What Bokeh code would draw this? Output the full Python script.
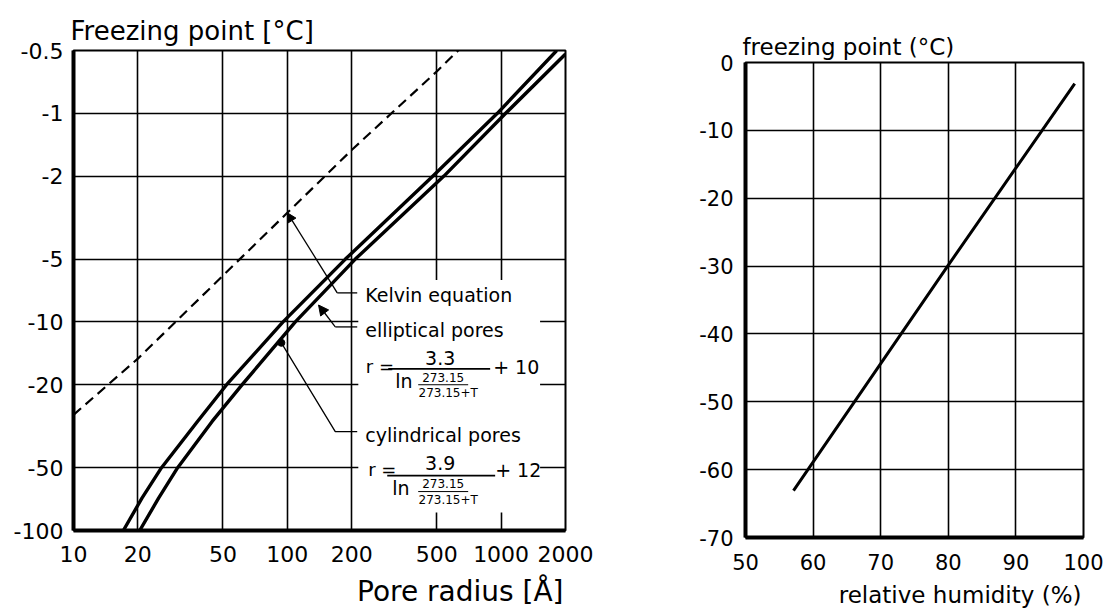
from jinja2 import Template
from bokeh.plotting import figure
from bokeh.models import (Range1d, FixedTicker, CustomJSTickFormatter, Label,
                          Arrow, NormalHead, Title)
from bokeh.embed import file_html
from bokeh.resources import INLINE

FONT = "DejaVu Sans"

# ---------------------------------------------------------------- data ---
# Freezing point versus pore radius (log-log)
radius_ticks = [10, 20, 50, 100, 200, 500, 1000, 2000]
temp_ticks = [-0.5, -1, -2, -5, -10, -20, -50, -100]

kelvin_radius = [10, 20, 50, 100, 200, 500, 630]
kelvin_temp = [-27.9, -15.0, -6.0, -3.0, -1.5, -0.63, -0.5]

elliptical_temp = [-100, -70, -50, -30, -20, -10, -5, -2, -1, -0.5]
elliptical_radius = [17.1, 20.9, 25.8, 38.0, 52.0, 95.5, 187, 480, 960, 1820]

cylindrical_temp = [-100, -70, -50, -30, -20, -10, -5, -2, -1, -0.52]
cylindrical_radius = [20.4, 25.0, 30.7, 44.5, 61.5, 109, 208, 540, 1050, 2000]

# Freezing point versus relative humidity
rh_ticks = [50, 60, 70, 80, 90, 100]
fp_ticks = [0, -10, -20, -30, -40, -50, -60, -70]
humidity = [57.1, 79.9, 98.7]
freezing = [-63.1, -30.0, -3.1]


def depression(temps):
    """The log axis runs over the depression below 0 degC."""
    return [-t for t in temps]


def style(p, tick_size):
    p.outline_line_color = "black"
    p.outline_line_width = 2
    p.outline_line_alpha = 1
    for ax in (p.xaxis, p.yaxis):
        ax.axis_line_width = 4
        ax.axis_line_color = "black"
        ax.major_tick_line_color = None
        ax.minor_tick_line_color = None
        ax.major_label_text_font = FONT
        ax.major_label_text_font_size = tick_size
        ax.major_label_text_color = "black"
    p.xaxis.major_label_standoff = 9
    p.yaxis.major_label_standoff = 4
    for g in (p.xgrid, p.ygrid):
        g.grid_line_color = "black"
        g.grid_line_width = 1.6
        g.grid_line_alpha = 1
    p.background_fill_color = "white"
    p.border_fill_color = "white"


def heading(text, size, align, offset, standoff):
    return Title(text=text, align=align, offset=offset, standoff=standoff,
                 text_font=FONT, text_font_size=size,
                 text_font_style="normal", text_color="black")


def label(p, x, y, text, size, align="left", baseline="middle"):
    p.add_layout(Label(x=x, y=y, text=text, text_font=FONT,
                       text_font_size=size, text_color="black",
                       text_align=align, text_baseline=baseline))


# ------------------------------------------------------ pore radius plot ---
p1 = figure(width=650, height=615,
            x_axis_type="log", y_axis_type="log",
            x_range=Range1d(10, 2000), y_range=Range1d(100, 0.5),
            output_backend="svg", toolbar_location=None,
            min_border_left=73, min_border_right=85,
            min_border_top=50, min_border_bottom=85)
p1.title = heading("Freezing point [°C]", "26px", "left", -3, 9)
p1.add_layout(heading("Pore radius [Å]", "28px", "right", 2, 16), "below")
style(p1, "22px")

xt = FixedTicker(ticks=radius_ticks)
yt = FixedTicker(ticks=depression(temp_ticks))
p1.xaxis.ticker = xt
p1.xgrid.ticker = xt
p1.yaxis.ticker = yt
p1.ygrid.ticker = yt
p1.xaxis.formatter = CustomJSTickFormatter(code="return String(tick);")
p1.yaxis.formatter = CustomJSTickFormatter(code="return '-' + String(tick);")

# white panel behind the equation block
p1.quad(left=214.8, right=1521, top=6.3, bottom=82.0,
        fill_color="white", line_color=None)

p1.line(kelvin_radius, depression(kelvin_temp), line_color="black",
        line_width=2.2, line_dash="10 6")
p1.line(elliptical_radius, depression(elliptical_temp), line_color="black",
        line_width=3.4, line_join="round")
p1.line(cylindrical_radius, depression(cylindrical_temp), line_color="black",
        line_width=3.4, line_join="round")

# leaders
lead = dict(line_color="black", line_width=1.3)
p1.add_layout(Arrow(x_start=171.2, y_start=7.26, x_end=100, y_end=3.0,
                    end=NormalHead(size=9, fill_color="black", line_color="black"),
                    **lead))
p1.line([171.2, 212.3], [7.26, 7.26], **lead)

p1.add_layout(Arrow(x_start=167.6, y_start=10.57, x_end=140, y_end=8.3,
                    end=NormalHead(size=10, fill_color="black", line_color="black"),
                    **lead))
p1.line([167.6, 212.3], [10.57, 10.57], **lead)

p1.line([93.8, 167.6, 212.3], [12.6, 33.6, 33.6], **lead)
p1.scatter([93.8], [12.6], size=7, color="black")

label(p1, 231.5, 7.43, "Kelvin equation", "19px")
label(p1, 231.5, 10.92, "elliptical pores", "19px")
label(p1, 231.5, 34.7, "cylindrical pores", "19px")

# r = 3.3 / ln(273.15/(273.15+T)) + 10
label(p1, 233, 16.42, "r =", "18px")
label(p1, 518.8, 14.87, "3.3", "19px", align="center")
p1.line([296.5, 888.5], [16.79, 16.79], line_color="black", line_width=1.6)
label(p1, 319.6, 19.15, "ln", "19px")
label(p1, 535.8, 18.53, "273.15", "12px", align="center")
p1.line([409.4, 701.2], [20.01, 20.01], line_color="black", line_width=1)
label(p1, 565.4, 21.86, "273.15+T", "12px", align="center")
label(p1, 917.6, 16.42, "+ 10", "19px")

# r = 3.9 / ln(273.15/(273.15+T)) + 12
label(p1, 239, 51.1, "r =", "18px")
label(p1, 518.8, 47.29, "3.9", "19px", align="center")
p1.line([293.3, 937.6], [54.56, 54.56], line_color="black", line_width=1.6)
label(p1, 309.6, 62.27, "ln", "19px")
label(p1, 535.8, 59.6, "273.15", "12px", align="center")
p1.line([409.4, 701.2], [65.07, 65.07], line_color="black", line_width=1)
label(p1, 565.4, 71.07, "273.15+T", "12px", align="center")
label(p1, 937.6, 51.1, "+ 12", "19px")

# --------------------------------------------------------- humidity plot ---
p2 = figure(width=454, height=615,
            x_range=Range1d(50, 100), y_range=Range1d(-70, 0),
            output_backend="svg", toolbar_location=None,
            min_border_left=95, min_border_right=21,
            min_border_top=62, min_border_bottom=77)
p2.title = heading("freezing point (°C)", "23px", "left", -3, 6)
p2.add_layout(heading("relative humidity (%)", "23px", "right", 2, 15), "below")
style(p2, "21px")
p2.yaxis.major_label_standoff = 6
p2.xaxis.major_label_standoff = 10
xt2 = FixedTicker(ticks=rh_ticks)
yt2 = FixedTicker(ticks=fp_ticks)
p2.xaxis.ticker = xt2
p2.xgrid.ticker = xt2
p2.yaxis.ticker = yt2
p2.ygrid.ticker = yt2
p2.xaxis.formatter = CustomJSTickFormatter(code="return String(tick);")
p2.yaxis.formatter = CustomJSTickFormatter(code="return String(tick);")

p2.line(humidity, freezing, line_color="black", line_width=3)

# two independent roots placed side by side, each keeping its own borders
PAGE = Template("""{% from macros import embed %}
<!DOCTYPE html>
<html lang="en">
<head>
<meta charset="utf-8">
<title>{{ title }}</title>
{{ bokeh_css }}
{{ bokeh_js }}
<style>
html, body { margin: 0; padding: 0; }
.pair { display: flex; flex-direction: row; align-items: flex-start; }
</style>
</head>
<body>
<div class="pair">
{{ embed(roots[0]) }}
{{ embed(roots[1]) }}
</div>
{{ plot_script }}
</body>
</html>
""")

open("out.html", "w").write(file_html([p1, p2], INLINE, title="Freezing point",
                                      template=PAGE))
